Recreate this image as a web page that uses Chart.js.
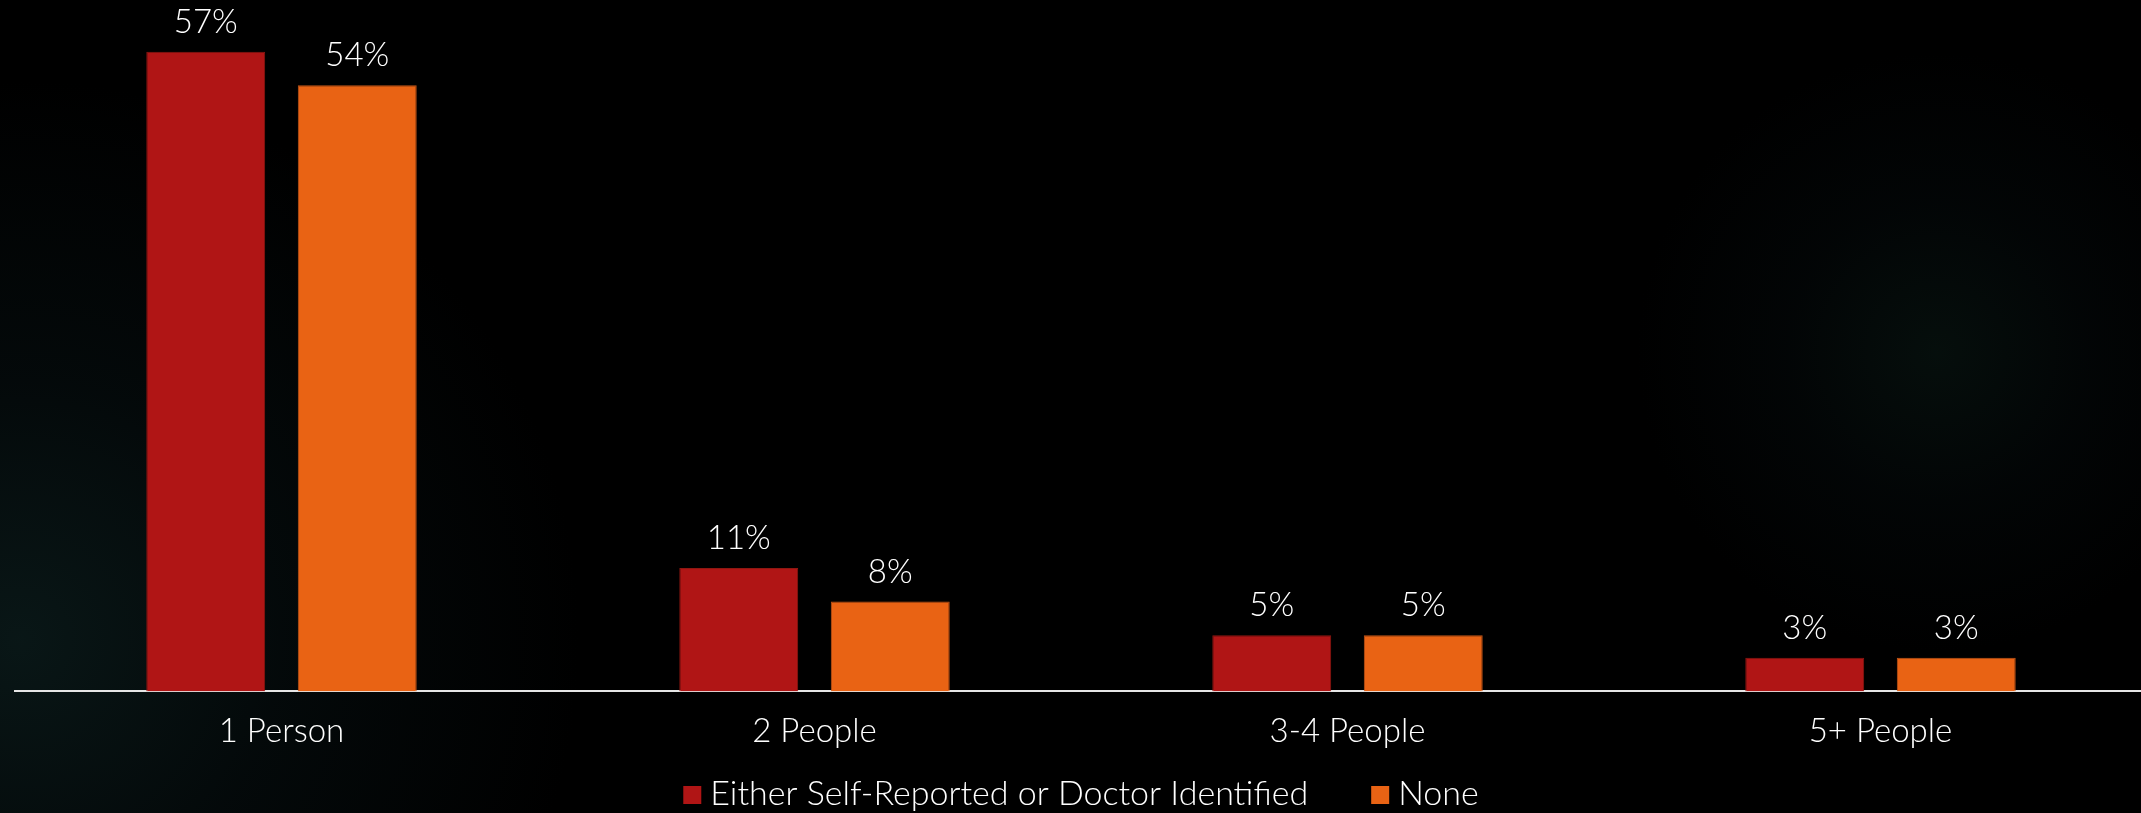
<!DOCTYPE html>
<html>
<head>
<meta charset="utf-8">
<script src="https://cdn.jsdelivr.net/npm/chart.js@4.4.0/dist/chart.umd.min.js"></script>
<style>
  html, body {
    margin: 0;
    padding: 0;
    width: 2141px;
    height: 813px;
    overflow: hidden;
    background-color: #000;
    background-image:
      radial-gradient(circle at 1937px 352px, rgba(10, 26, 22, 0.55) 0px, rgba(6, 14, 16, 0.35) 150px, rgba(0, 0, 0, 0) 300px),
      radial-gradient(circle at 20px 640px, rgba(12, 30, 30, 0.75) 0px, rgba(8, 20, 22, 0.45) 260px, rgba(0, 0, 0, 0) 560px);
  }
  #wrap {
    position: relative;
    width: 2147px;
    height: 813px;
  }
</style>
</head>
<body>
<div id="wrap">
  <canvas id="householdChart"></canvas>
</div>
<script>
// household size by condition status, in percent
const categories = ['1 Person', '2 People', '3-4 People', '5+ People'];
const seriesNames = ['Either Self-Reported or Doctor Identified', 'None'];
const identifiedValues = [57, 11, 5, 3];
const noneValues = [54, 8, 5, 3];
const seriesColors = ['#B01515', '#E96314'];

const FONT = "'Lato', 'Open Sans', sans-serif";
const TEXT_FONT = '300 33px ' + FONT;

// writes "NN%" above each bar
const valueLabels = {
  id: 'valueLabels',
  afterDatasetsDraw(chart) {
    const ctx = chart.ctx;
    ctx.save();
    ctx.fillStyle = '#ffffff';
    ctx.font = TEXT_FONT;
    ctx.textAlign = 'center';
    ctx.textBaseline = 'alphabetic';
    chart.data.datasets.forEach((ds, i) => {
      const meta = chart.getDatasetMeta(i);
      meta.data.forEach((bar, j) => {
        ctx.fillText(ds.data[j] + '%', bar.x, bar.y - 19);
      });
    });
    ctx.restore();
  }
};

// compact legend row: small square, short gap, name
const bottomLegend = {
  id: 'bottomLegend',
  afterDraw(chart) {
    const ctx = chart.ctx;
    const box = 18, boxGap = 9, itemGap = 63;
    const baseline = 805;
    ctx.save();
    ctx.font = '300 34px ' + FONT;
    ctx.textBaseline = 'alphabetic';
    const widths = chart.data.datasets.map(ds => ctx.measureText(ds.label).width);
    let total = 0;
    widths.forEach((w, i) => { total += box + boxGap + w + (i ? itemGap : 0); });
    const area = chart.chartArea;
    let x = (area.left + area.right) / 2 - total / 2;
    chart.data.datasets.forEach((ds, i) => {
      ctx.fillStyle = ds.backgroundColor;
      ctx.fillRect(x, baseline - box - 1, box, box);
      x += box + boxGap;
      ctx.fillStyle = '#ffffff';
      ctx.fillText(ds.label, x, baseline);
      x += widths[i] + itemGap;
    });
    ctx.restore();
  }
};

const ctx = document.getElementById('householdChart').getContext('2d');
new Chart(ctx, {
  type: 'bar',
  data: {
    labels: categories,
    datasets: [
      {
        label: seriesNames[0],
        data: identifiedValues,
        backgroundColor: seriesColors[0],
        borderColor: '#8E1711',
        borderWidth: 1,
        categoryPercentage: 0.5685,
        barPercentage: 0.785
      },
      {
        label: seriesNames[1],
        data: noneValues,
        backgroundColor: seriesColors[1],
        borderColor: '#C25416',
        borderWidth: 1,
        categoryPercentage: 0.5685,
        barPercentage: 0.785
      }
    ]
  },
  options: {
    responsive: true,
    maintainAspectRatio: false,
    animation: false,
    layout: {
      padding: { left: 15, right: 0, top: 18, bottom: 42 }
    },
    plugins: {
      tooltip: { enabled: false },
      legend: { display: false }
    },
    scales: {
      x: {
        grid: { display: false, drawTicks: false },
        border: { display: true, color: '#e6e6e6', width: 2 },
        ticks: {
          color: '#ffffff',
          font: { family: FONT, size: 33, weight: '300' },
          padding: 20
        }
      },
      y: {
        display: false,
        min: 0,
        max: 60
      }
    }
  },
  plugins: [valueLabels, bottomLegend]
});
</script>
</body>
</html>
